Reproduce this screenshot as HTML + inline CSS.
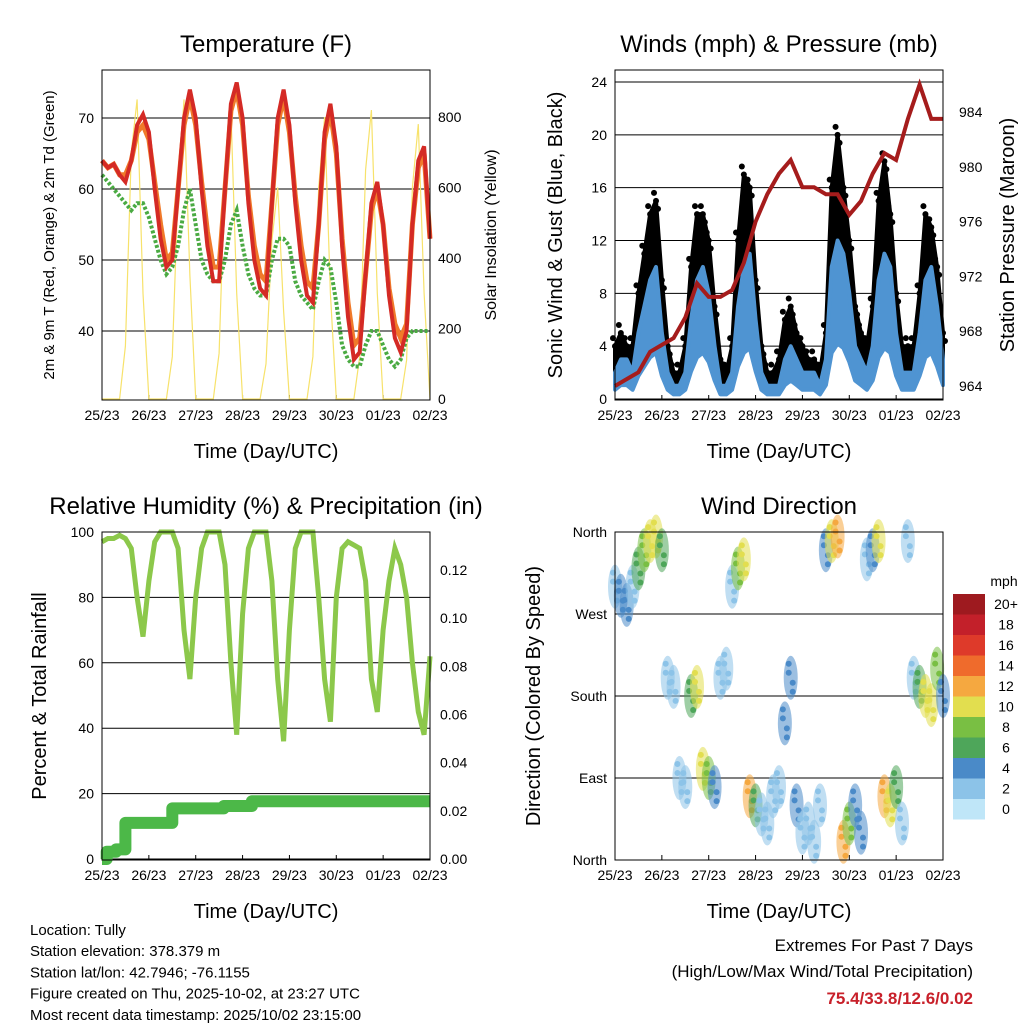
<!DOCTYPE html>
<html><head><meta charset="utf-8"><style>
body{margin:0;background:#fff;}
svg text{font-family:"Liberation Sans",sans-serif;fill:#000;}
</style></head><body>
<svg id="s" width="1024" height="1024" viewBox="0 0 1024 1024" xmlns="http://www.w3.org/2000/svg">
<rect width="1024" height="1024" fill="#fff"/>
</svg>
<script>
// ---- data (3-hourly, starting 25/23) ----
const dayLabels = ["25/23","26/23","27/23","28/23","29/23","30/23","01/23","02/23"];
const tempRed = [64,63,63.5,62,61,64,69,70.5, 68,60,53,49,50,60,70,74, 70,60,52,47,47,60,72,75, 70,58,50,46,45,58,70,74, 69,58,50,45,44,55,68,72, 66,52,42,36,37,48,58,61, 55,45,39,37,40,55,64,66, 53];
const tempOrange = [64,63,63.5,62,62,64,68,69, 67,61,55,50,51,60,69,73, 69,61,54,49,49,60,71,74, 69,59,52,48,47,58,69,73, 68,59,52,47,46,55,67,71, 65,53,44,38,39,48,57,60, 55,46,41,39,41,55,63,65, 53];
const dewGreen = [62,61,60,59,58,57,58,58, 56,53,50,48,49,52,57,60, 55,50,48,47,47,50,55,57, 52,48,46,45,45,50,53,53, 52,47,45,44,43,47,50,49, 44,38,36,35,35,38,40,40, 38,36,35,36,39,40,40,40, 40];
const solar = [0,0,0,0,150,700,850,300, 0,0,0,0,120,600,850,350, 0,0,0,0,130,650,820,300, 0,0,0,0,100,450,600,250, 0,0,0,0,120,600,800,300, 0,0,0,0,120,650,820,300, 0,0,0,0,110,600,780,300, 0];
const windSpd = [2,3,3,2,5,7,9,10, 5,2,1,1,2,6,9,10, 8,4,1,1,2,7,10,11, 6,2,1,1,1,3,4,3, 2,2,2,1,3,10,12,11, 8,4,3,2,4,9,11,10, 5,2,2,2,5,9,10,7, 3];
const windGust = [4,5,4,4,8,11,14,15, 9,4,2,2,4,10,14,14, 12,7,3,2,4,12,17,16, 9,4,2,2,3,6,7,5, 4,3,3,2,5,16,20,16, 12,7,5,4,7,15,18,14, 8,4,4,4,8,14,13,10, 5];
const pressure = [964,964.5,965,966.5, 967,967.5,969,971.5, 970.5,970.5,971,973, 976,978,979.5,980.5, 978.5,978.5,978,978, 976.5,977.5,979.5,981, 980.5,983.5,986,983.5, 983.5]; // 6-hourly
const rh = [97,98,98,99,98,95,80,68, 85,97,100,100,100,95,70,55, 80,95,100,100,100,90,60,38, 75,95,100,100,100,85,55,36, 70,95,100,100,100,80,55,42, 80,95,97,96,95,85,55,45, 70,85,95,90,80,60,45,38, 62];
const precipDays = [0,0.1,0.3,0.5,1.5,2.6,3.2,7];
const precipVals = [0,0.003,0.004,0.015,0.021,0.022,0.024,0.024];
const windDir = [300,290,280,300,320,340,350,355, 340,200,190,90,80,180,190,100, 90,80,200,210,300,320,330,70, 60,50,40,70,80,150,200,60, 30,40,20,60,340,350,355,20, 40,60,30,330,340,350,70,60, 80,40,350,200,190,180,170,210, 180];
const cbLabels = ["20+","18","16","14","12","10","8","6","4","2","0"];
const cbColors = ["#9e1a1f","#c3202a","#de3a2a","#ef6b2c","#f5a840","#e2de4f","#79bf43","#4ea65a","#4a8ac8","#8cc3e8","#bfe6f8"];

const NS="http://www.w3.org/2000/svg", S=document.getElementById('s');
function el(t,a,p){const e=document.createElementNS(NS,t);for(const k in a)e.setAttribute(k,a[k]);(p||S).appendChild(e);return e;}
function txt(x,y,s,size,anchor,extra){const e=el('text',Object.assign({x:x,y:y,'font-size':size,'text-anchor':anchor||'middle'},extra||{}));e.textContent=s;return e;}
function lin(d0,d1,r0,r1){return v=>r0+(v-d0)/(d1-d0)*(r1-r0);}

function panel(x0,y0,x1,y1,title,xlab,name){
  const g=el('g',{});
  
  
  const t=txt((x0+x1)/2,y0-18,title,24);
  
  
  const xl=txt((x0+x1)/2,y1+58,xlab,20);
  
  
  const X=lin(0,7,x0,x1);
  dayLabels.forEach((d,i)=>{
    const tk=txt(X(i),y1+20,d,14);
    
    
    el('line',{x1:X(i),x2:X(i),y1:y1,y2:y1-5,stroke:'#000'});
  });
  return X;
}
function frame(x0,y0,x1,y1){const r=el('rect',{x:x0,y:y0,width:x1-x0,height:y1-y0,fill:'none',stroke:'#000','stroke-width':1});}
function pathOf(xs,ys){return xs.map((x,i)=>(i?'L':'M')+x.toFixed(1)+','+ys[i].toFixed(1)).join('');}
const tIdx=a=>a.map((_,i)=>i*3/24);

// ===== Temperature =====
{
 const x0=102,y0=70,x1=430,y1=400;
 const X=panel(x0,y0,x1,y1,'Temperature (F)','Time (Day/UTC)','temperature-panel');
 const Y=lin(40,70,331,118), YS=lin(0,800,399,117);
 [40,50,60,70].forEach(v=>{el('line',{x1:x0,x2:x1,y1:Y(v),y2:Y(v),stroke:'#000'});const t=txt(x0-8,Y(v)+5,String(v),14,'end');});
 [0,200,400,600,800].forEach(v=>{const t=txt(x1+8,YS(v)+5,String(v),14,'start');});
 const ts=tIdx(tempRed);
 const sol=el('path',{d:pathOf(ts.map(X),solar.map(YS)),fill:'none',stroke:'#f7e26b','stroke-width':1.2});
 
 const o=el('path',{d:pathOf(ts.map(X),tempOrange.map(Y)),fill:'none',stroke:'#f07a2a','stroke-width':5});
 
 const gr=el('path',{d:pathOf(ts.map(X),dewGreen.map(Y)),fill:'none',stroke:'#4aaa42','stroke-width':4,'stroke-dasharray':'3 2'});
 
 const r=el('path',{d:pathOf(ts.map(X),tempRed.map(Y)),fill:'none',stroke:'#d42a25','stroke-width':4});
 
 frame(x0,y0,x1,y1);
 const a=txt(0,0,'2m & 9m T (Red, Orange) & 2m Td (Green)',15,'middle',{transform:`translate(54,${(y0+y1)/2}) rotate(-90)`});
 
 const b=txt(0,0,'Solar Insolation (Yellow)',16,'middle',{transform:`translate(496,${(y0+y1)/2}) rotate(-90)`});
 
}
// ===== Winds =====
{
 const x0=615,y0=70,x1=943,y1=400;
 const X=panel(x0,y0,x1,y1,'Winds (mph) & Pressure (mb)','Time (Day/UTC)','winds-panel');
 const Y=lin(0,24,399,82), YP=lin(964,984,386,112);
 [0,4,8,12,16,20,24].forEach(v=>{el('line',{x1:x0,x2:x1,y1:Y(v),y2:Y(v),stroke:'#000'});const t=txt(x0-8,Y(v)+5,String(v),14,'end');});
 [964,968,972,976,980,984].forEach(v=>{const t=txt(x1+16,YP(v)+5,String(v),14,'start');});
 const ts=tIdx(windSpd);
 // black gust band: polygon between wind and gust
 const up=ts.map((t,i)=>X(t).toFixed(1)+','+Y(windGust[i]).toFixed(1));
 const dn=ts.map((t,i)=>X(t).toFixed(1)+','+Y(windSpd[i]*0.9).toFixed(1)).reverse();
 const band=el('polygon',{points:up.concat(dn).join(' '),fill:'#000',stroke:'#000','stroke-width':4,'stroke-linejoin':'round'});
 
 windGust.forEach((v,i)=>{
   [0,1,2].forEach(k=>{const c=el('circle',{cx:X(ts[i])+k*2-2,cy:Y(v)+k*8-8,r:3,fill:'#000'});});
 });
 // blue wind band
 const wu=ts.map((t,i)=>X(t).toFixed(1)+','+Y(windSpd[i]).toFixed(1));
 const wd=ts.map((t,i)=>X(t).toFixed(1)+','+Y(windSpd[i]*0.35).toFixed(1)).reverse();
 const w=el('polygon',{points:wu.concat(wd).join(' '),fill:'#4f94d2',stroke:'#4f94d2','stroke-width':4,'stroke-linejoin':'round'});
 
 const pt=pressure.map((_,i)=>i*6/24);
 const p=el('path',{d:pathOf(pt.map(X),pressure.map(YP)),fill:'none',stroke:'#a51c1c','stroke-width':4});
 
 frame(x0,y0,x1,y1);
 const a=txt(0,0,'Sonic Wind & Gust (Blue, Black)',20,'middle',{transform:`translate(562,${(y0+y1)/2}) rotate(-90)`});
 
 const b=txt(0,0,'Station Pressure (Maroon)',20,'middle',{transform:`translate(1014,${(y0+y1)/2}) rotate(-90)`});
 
}
// ===== RH =====
{
 const x0=102,y0=532,x1=430,y1=860;
 const X=panel(x0,y0,x1,y1,'Relative Humidity (%) & Precipitation (in)','Time (Day/UTC)','humidity-panel');
 const Y=lin(0,100,859,532), YR=lin(0,0.12,859,570);
 [0,20,40,60,80,100].forEach(v=>{el('line',{x1:x0,x2:x1,y1:Y(v),y2:Y(v),stroke:'#000'});const t=txt(x0-8,Y(v)+5,String(v),14,'end');});
 [0,0.02,0.04,0.06,0.08,0.1,0.12].forEach(v=>{const t=txt(x1+10,YR(v)+5,v.toFixed(2),14,'start');});
 const ts=tIdx(rh);
 const r=el('path',{d:pathOf(ts.map(X),rh.map(Y)),fill:'none',stroke:'#8cc84b','stroke-width':5});
 
 let d='';precipDays.forEach((t,i)=>{d+=(i?'L'+X(t).toFixed(1)+','+YR(precipVals[i-1]).toFixed(1)+'L':'M')+X(t).toFixed(1)+','+YR(precipVals[i]).toFixed(1);});
 const pp=el('path',{d:d,fill:'none',stroke:'#4cb848','stroke-width':12,'stroke-linejoin':'round'});
 
 frame(x0,y0,x1,y1);
 const a=txt(0,0,'Percent & Total Rainfall',20,'middle',{transform:`translate(46,${(y0+y1)/2}) rotate(-90)`});
 
}
// ===== Wind Direction =====
{
 const x0=615,y0=532,x1=943,y1=860;
 const X=panel(x0,y0,x1,y1,'Wind Direction','Time (Day/UTC)','wind-direction-panel');
 const Y=lin(0,360,860,532);
 [[0,'North'],[90,'East'],[180,'South'],[270,'West'],[360,'North']].forEach(([v,l])=>{el('line',{x1:x0,x2:x1,y1:Y(v),y2:Y(v),stroke:'#000'});const t=txt(x0-8,Y(v)+5,l,14,'end');});
 const ts=tIdx(windDir);
 const col=s=>cbColors[10-Math.min(10,Math.round(s/2))];
 windDir.forEach((v,i)=>{
   const x=X(ts[i]), y=Y(v), c=col(windSpd[i]);
   const e=el('ellipse',{cx:x,cy:y,rx:7,ry:22,fill:c,opacity:0.55});
   
   [-14,-5,5,14].forEach(k=>{const d=el('circle',{cx:x+(k%3),cy:y+k,r:3,fill:c});});
 });
 frame(x0,y0,x1,y1);
 const a=txt(0,0,'Direction (Colored By Speed)',20,'middle',{transform:`translate(540,${(y0+y1)/2}) rotate(-90)`});
 
 const m=txt(1004,586,'mph',14,'middle');
 cbColors.forEach((c,i)=>{
   const r=el('rect',{x:953,y:594+i*20.5,width:32,height:20.5,fill:c});
   
   const t=txt(1006,609+i*20.5,cbLabels[i],14,'middle');
   
 });
}
// ===== footer =====
["Location: Tully","Station elevation: 378.379 m","Station lat/lon: 42.7946; -76.1155","Figure created on Thu, 2025-10-02, at 23:27 UTC","Most recent data timestamp: 2025/10/02 23:15:00"].forEach((s,i)=>{
 const t=txt(30,935+i*21.2,s,15,'start');
});
{
 const a=txt(973,951,'Extremes For Past 7 Days',17,'end');
 const b=txt(973,977,'(High/Low/Max Wind/Total Precipitation)',17,'end');
 const c=txt(973,1004,'75.4/33.8/12.6/0.02',17,'end',{'font-weight':'bold',style:'fill:#c8202a'});
}
</script>
</body></html>
